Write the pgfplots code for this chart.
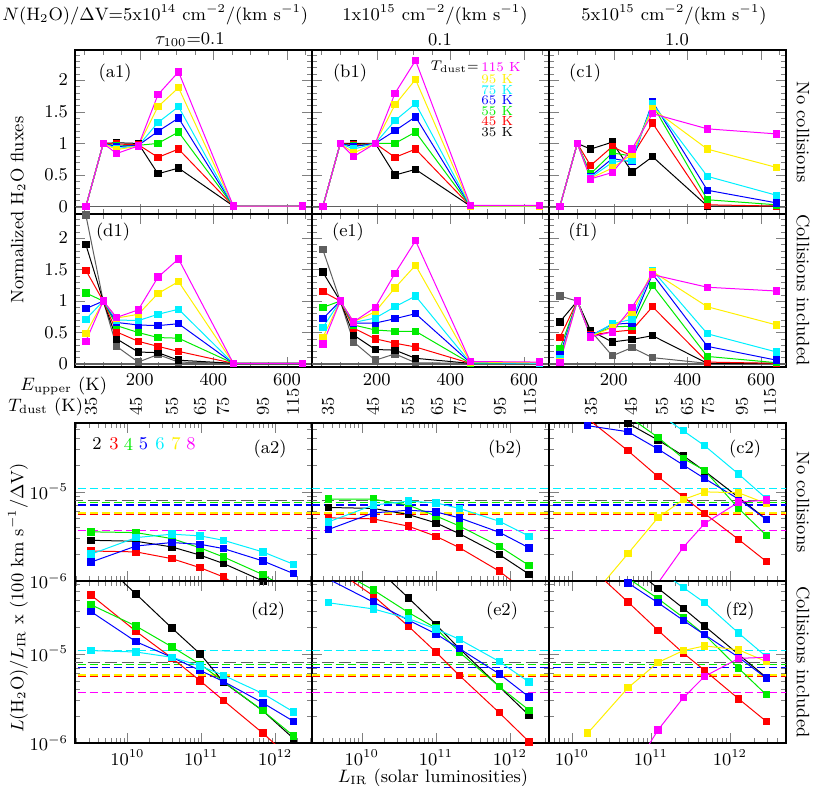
\documentclass[border=0pt]{standalone}
\usepackage{pgfplots}
\usepackage{pgfplotstable}
\pgfplotsset{compat=1.18}

\definecolor{cK}{RGB}{0,0,0}
\definecolor{cR}{RGB}{255,0,0}
\definecolor{cG}{RGB}{0,235,0}
\definecolor{cB}{RGB}{0,0,255}
\definecolor{cC}{RGB}{0,240,255}
\definecolor{cY}{RGB}{255,240,0}
\definecolor{cM}{RGB}{255,0,255}
\definecolor{cGr}{RGB}{95,95,95}

% ---- normalized fluxes vs E_upper (K); columns: grey, 35 K ... 115 K
\pgfplotstableread{
E     k35  k45  k55  k65  k75  k95  k115
53.4  0    0    0    0    0    0    0
100.8 1    1    1    1    1    1    1
136.9 1.01 0.99 0.96 0.95 0.92 0.90 0.84
195.9 1.00 0.98 0.97 0.97 0.96 0.96 0.96
249.4 0.52 0.78 1.00 1.19 1.33 1.58 1.77
305.3 0.61 0.91 1.18 1.40 1.58 1.88 2.13
454.3 0.01 0.01 0.01 0.01 0.01 0.01 0.01
642.5 0.01 0.01 0.01 0.01 0.01 0.01 0.01
}\tabaone
\pgfplotstableread{
E     k35  k45  k55  k65  k75  k95  k115
53.4  0    0    0    0    0    0    0
100.8 1    1    1    1    1    1    1
136.9 1.00 0.98 0.96 0.95 0.91 0.85 0.79
195.9 1.00 1.00 1.00 1.00 1.00 1.00 1.00
249.4 0.50 0.78 1.00 1.20 1.36 1.61 1.79
305.3 0.59 0.91 1.18 1.42 1.63 2.01 2.31
454.3 0.01 0.01 0.01 0.01 0.01 0.01 0.02
642.5 0.01 0.01 0.01 0.01 0.01 0.01 0.02
}\tabbone
\pgfplotstableread{
E     k35  k45  k55  k65  k75  k95  k115
53.4  0    0    0    0    0    0    0
100.8 1    1    1    1    1    1    1
136.9 0.91 0.65 0.52 0.48 0.46 0.45 0.44
195.9 1.02 0.95 0.85 0.76 0.70 0.61 0.54
249.4 0.55 0.80 0.80 0.71 0.74 0.83 0.91
305.3 0.79 1.32 1.61 1.66 1.63 1.55 1.47
454.3 0.01 0.03 0.11 0.26 0.48 0.91 1.23
642.5 0.01 0.01 0.03 0.06 0.18 0.62 1.15
}\tabcone
\pgfplotstableread{
E     gr   k35  k45  k55  k65  k75  k95  k115
53.4  2.37 1.90 1.49 1.13 0.88 0.71 0.48 0.36
100.8 1    1    1    1    1    1    1    1
136.9 0.28 0.40 0.51 0.61 0.66 0.70 0.73 0.74
195.9 0.03 0.19 0.36 0.50 0.62 0.69 0.79 0.86
249.4 0.15 0.18 0.28 0.42 0.61 0.79 1.12 1.38
305.3 0.03 0.06 0.20 0.41 0.64 0.87 1.31 1.67
454.3 0.01 0.01 0.01 0.01 0.01 0.01 0.01 0.01
642.5 0.01 0.01 0.01 0.01 0.01 0.01 0.01 0.01
}\tabdone
\pgfplotstableread{
E     gr   k35  k45  k55  k65  k75  k95  k115
53.4  1.82 1.46 1.15 0.90 0.72 0.58 0.42 0.32
100.8 1    1    1    1    1    1    1    1
136.9 0.35 0.46 0.57 0.62 0.65 0.66 0.67 0.67
195.9 0.06 0.23 0.40 0.54 0.65 0.73 0.83 0.90
249.4 0.16 0.22 0.33 0.52 0.72 0.91 1.21 1.44
305.3 0.02 0.09 0.27 0.52 0.80 1.08 1.57 1.96
454.3 0.01 0.01 0.01 0.01 0.02 0.02 0.03 0.04
642.5 0.01 0.01 0.01 0.01 0.01 0.01 0.02 0.03
}\tabeone
\pgfplotstableread{
E     gr   k35  k45  k55  k65  k75  k95  k115
53.4  1.08 0.67 0.42 0.24 0.14 0.08 0.04 0.02
100.8 1    1    1    1    1    1    1    1
136.9 0.53 0.53 0.46 0.45 0.45 0.44 0.44 0.43
195.9 0.13 0.35 0.51 0.59 0.63 0.64 0.58 0.51
249.4 0.26 0.39 0.54 0.60 0.65 0.71 0.82 0.90
305.3 0.10 0.45 0.91 1.25 1.43 1.49 1.47 1.42
454.3 0.01 0.01 0.03 0.12 0.28 0.48 0.91 1.22
642.5 0.01 0.01 0.01 0.02 0.06 0.19 0.62 1.16
}\tabfone

% ---- L(H2O)/L_IR vs L_IR; columns: lines 2..8
\pgfplotstableread{
L       l2      l3      l4      l5      l6
3.22e9  2.86e-6 2.17e-6 3.56e-6 1.63e-6 2.00e-6
1.31e10 2.79e-6 2.12e-6 3.49e-6 2.47e-6 3.07e-6
4.0e10  2.41e-6 1.78e-6 2.99e-6 2.70e-6 3.35e-6
9.66e10 1.95e-6 1.41e-6 2.35e-6 2.58e-6 3.21e-6
2.0e11  1.57e-6 1.11e-6 1.86e-6 2.31e-6 2.86e-6
6.82e11 1.00e-6 6.0e-7  1.18e-6 1.68e-6 2.12e-6
1.78e12 7.1e-7  3.6e-7  7.4e-7  1.21e-6 1.54e-6
}\tabatwo
\pgfplotstableread{
L       l2      l3      l4      l5      l6
3.54e9  6.68e-6 5.11e-6 8.28e-6 3.78e-6 4.60e-6
1.43e10 6.52e-6 4.98e-6 8.28e-6 5.81e-6 7.10e-6
4.25e10 5.57e-6 4.12e-6 7.10e-6 6.22e-6 7.87e-6
1.0e11  4.49e-6 3.18e-6 5.37e-6 5.96e-6 7.53e-6
2.07e11 3.40e-6 2.37e-6 4.15e-6 5.11e-6 6.52e-6
7.18e11 1.98e-6 1.29e-6 2.45e-6 3.52e-6 4.68e-6
1.82e12 1.19e-6 7.1e-7  1.49e-6 2.35e-6 3.18e-6
}\tabbtwo
\pgfplotstableread{
L        l2      l3      l4      l5      l6      l7      l8
1.585e10 1.05e-4 6.61e-5 1.26e-4 5.52e-5 2.0e-4  5.9e-7  1.0e-7
5.13e10  5.87e-5 2.89e-5 7.08e-5 4.72e-5 1.26e-4 2.03e-6 3.2e-7
1.23e11  3.81e-5 1.48e-5 4.08e-5 3.02e-5 7.59e-5 5.15e-6 9.5e-7
2.57e11  2.54e-5 8.79e-6 2.37e-5 2.00e-5 4.84e-5 8.20e-6 2.39e-6
4.79e11  1.71e-5 5.71e-6 1.74e-5 1.41e-5 3.29e-5 1.00e-5 4.42e-6
1.29e12  8.65e-6 2.92e-6 6.50e-6 8.28e-6 1.58e-5 9.75e-6 7.66e-6
2.88e12  4.93e-6 1.66e-6 3.26e-6 4.93e-6 8.43e-6 7.41e-6 8.07e-6
}\tabctwo
\pgfplotstableread{
L       l2      l3      l4      l5      l6
3.22e9  1.38e-4 4.57e-5 3.56e-5 2.98e-5 1.09e-5
1.31e10 4.69e-5 1.79e-5 2.05e-5 1.37e-5 1.05e-5
4.0e10  1.95e-5 9.0e-6  1.20e-5 9.16e-6 9.16e-6
9.66e10 1.00e-5 4.99e-6 7.66e-6 6.52e-6 7.33e-6
2.0e11  4.82e-6 3.00e-6 4.90e-6 4.90e-6 5.75e-6
6.82e11 2.30e-6 1.29e-6 2.30e-6 2.82e-6 3.59e-6
1.78e12 1.12e-6 6.3e-7  1.20e-6 1.75e-6 2.23e-6
}\tabdtwo
\pgfplotstableread{
L       l2      l3      l4      l5      l6
3.54e9  2.5e-4  1.0e-4  1.0e-4  6.92e-5 3.75e-5
1.43e10 1.0e-4  4.49e-5 5.22e-5 3.82e-5 3.20e-5
4.25e10 4.26e-5 2.05e-5 2.92e-5 2.40e-5 2.49e-5
1.0e11  2.14e-5 1.05e-5 1.95e-5 1.68e-5 1.91e-5
2.07e11 1.15e-5 5.75e-6 1.05e-5 1.15e-5 1.46e-5
7.18e11 4.29e-6 2.19e-6 4.29e-6 5.97e-6 8.22e-6
1.82e12 2.04e-6 1.03e-6 2.33e-6 3.28e-6 4.82e-6
}\tabetwo
\pgfplotstableread{
L        l2      l3      l4      l5      l6      l7      l8
1.585e10 2.0e-4  1.0e-4  1.26e-4 1.26e-4 2.5e-4  1.29e-6 1.0e-7
5.13e10  1.0e-4  3.82e-5 7.08e-5 6.25e-5 1.41e-4 4.17e-6 4.0e-7
1.23e11  5.46e-5 1.84e-5 4.17e-5 3.75e-5 8.91e-5 8.02e-6 1.40e-6
2.57e11  3.25e-5 1.02e-5 2.56e-5 2.38e-5 5.56e-5 1.09e-5 3.22e-6
4.79e11  2.05e-5 6.52e-6 1.64e-5 1.64e-5 3.75e-5 1.23e-5 5.60e-6
1.29e12  9.84e-6 3.13e-6 6.89e-6 9.16e-6 1.71e-5 1.11e-5 8.91e-6
2.88e12  5.46e-6 1.75e-6 3.49e-6 5.36e-6 9.33e-6 8.22e-6 9.16e-6
}\tabftwo

\pgfplotsset{
  ser/.style={color=#1, mark=square*, mark size=1.6pt, line width=0.5pt},
  panel/.style={scale only axis, width=118.5pt, anchor=south west,
    tick align=inside, major tick length=5pt, minor tick length=2.5pt,
    axis line style={line width=0.7pt},
    tick label style={font=\small}},
  toprow/.style={panel, xmin=24, xmax=668, xtick={0,200,400,600,800},
    minor x tick num=3, ytick={-0.5,0,0.5,1,1.5,2,2.5}, minor y tick num=4},
  botrow/.style={panel, ymin=1e-6,
    xtick={1e9,1e10,1e11,1e12,1e13}, ytick={1e-7,1e-6,1e-5,1e-4}},
  colA/.style={xmin=1.95e9, xmax=3.16e12},
  colB/.style={xmin=2.13e9, xmax=3.37e12},
  colC/.style={xmin=5.13e9, xmax=5.13e12},
}

\newcommand{\legf}{\fontsize{6.6}{6.6}\selectfont}
\newcommand{\zeroline}{\draw[cGr, line width=0.6pt] (axis cs:24,0) -- (axis cs:668,0);}
\newcommand{\tseries}[1]{%
  \addplot[ser=cK] table[x=E, y=k35] {#1};
  \addplot[ser=cR] table[x=E, y=k45] {#1};
  \addplot[ser=cG] table[x=E, y=k55] {#1};
  \addplot[ser=cB] table[x=E, y=k65] {#1};
  \addplot[ser=cC] table[x=E, y=k75] {#1};
  \addplot[ser=cY] table[x=E, y=k95] {#1};
  \addplot[ser=cM] table[x=E, y=k115] {#1};}
\newcommand{\bseries}[1]{%
  \addplot[ser=cK] table[x=L, y=l2] {#1};
  \addplot[ser=cR] table[x=L, y=l3] {#1};
  \addplot[ser=cG] table[x=L, y=l4] {#1};
  \addplot[ser=cB] table[x=L, y=l5] {#1};
  \addplot[ser=cC] table[x=L, y=l6] {#1};}
% observed ratios (dashed)
\newcommand{\obs}{%
  \addplot[cGr, line width=0.6pt, dash pattern=on 6pt off 2.5pt] coordinates {(1e9,8.04e-6) (1e13,8.04e-6)};
  \addplot[cR, line width=0.6pt, dash pattern=on 4pt off 2pt] coordinates {(1e9,5.58e-6) (1e13,5.58e-6)};
  \addplot[cG, line width=0.6pt, dash pattern=on 4pt off 2pt] coordinates {(1e9,7.59e-6) (1e13,7.59e-6)};
  \addplot[cB, line width=0.6pt, dash pattern=on 4pt off 2pt] coordinates {(1e9,7.11e-6) (1e13,7.11e-6)};
  \addplot[cC, line width=0.6pt, dash pattern=on 4pt off 2pt] coordinates {(1e9,1.084e-5) (1e13,1.084e-5)};
  \addplot[cY, line width=0.6pt, dash pattern=on 4pt off 2pt] coordinates {(1e9,5.79e-6) (1e13,5.79e-6)};
  \addplot[cM, line width=0.6pt, dash pattern=on 4pt off 2pt] coordinates {(1e9,3.70e-6) (1e13,3.70e-6)};}

\begin{document}
\begin{tikzpicture}
\path[use as bounding box] (0,0) rectangle (408.5pt,392.5pt);

% ---------- row 1: no collisions
\begin{axis}[toprow, at={(37.5pt,285.5pt)}, height=82pt, ymin=-0.115, ymax=2.476, xticklabels={}]
\zeroline
\tseries{\tabaone}
\end{axis}
\begin{axis}[toprow, at={(156pt,285.5pt)}, height=82pt, ymin=-0.115, ymax=2.476, xticklabels={}, yticklabels={}]
\zeroline
\tseries{\tabbone}
\end{axis}
\begin{axis}[toprow, at={(274.5pt,285.5pt)}, height=82pt, ymin=-0.115, ymax=2.476, xticklabels={}, yticklabels={}]
\zeroline
\tseries{\tabcone}
\end{axis}

% ---------- row 2: collisions included
\begin{axis}[toprow, at={(37.5pt,209pt)}, height=76.5pt, ymin=-0.048, ymax=2.385]
\zeroline
\addplot[ser=cGr] table[x=E, y=gr] {\tabdone};
\tseries{\tabdone}
\end{axis}
\begin{axis}[toprow, at={(156pt,209pt)}, height=76.5pt, ymin=-0.048, ymax=2.385, yticklabels={}]
\zeroline
\addplot[ser=cGr] table[x=E, y=gr] {\tabeone};
\tseries{\tabeone}
\end{axis}
\begin{axis}[toprow, at={(274.5pt,209pt)}, height=76.5pt, ymin=-0.048, ymax=2.385, yticklabels={}]
\zeroline
\addplot[ser=cGr] table[x=E, y=gr] {\tabfone};
\tseries{\tabfone}
\end{axis}

% ---------- row 3: no collisions, line ratios
\begin{loglogaxis}[botrow, colA, at={(37.5pt,102pt)}, height=79pt, ymax=5.92e-5, xticklabels={}]
\obs
\bseries{\tabatwo}
\end{loglogaxis}
\begin{loglogaxis}[botrow, colB, at={(156pt,102pt)}, height=79pt, ymax=5.92e-5, xticklabels={}, yticklabels={}]
\obs
\bseries{\tabbtwo}
\end{loglogaxis}
\begin{loglogaxis}[botrow, colC, at={(274.5pt,102pt)}, height=79pt, ymax=5.92e-5, xticklabels={}, yticklabels={}]
\obs
\bseries{\tabctwo}
\addplot[ser=cY] table[x=L, y=l7] {\tabctwo};
\addplot[ser=cM] table[x=L, y=l8] {\tabctwo};
\end{loglogaxis}

% ---------- row 4: collisions included, line ratios
\begin{loglogaxis}[botrow, colA, at={(37.5pt,21pt)}, height=81pt, ymax=6.58e-5]
\obs
\bseries{\tabdtwo}
\end{loglogaxis}
\begin{loglogaxis}[botrow, colB, at={(156pt,21pt)}, height=81pt, ymax=6.58e-5, yticklabels={}]
\obs
\bseries{\tabetwo}
\end{loglogaxis}
\begin{loglogaxis}[botrow, colC, at={(274.5pt,21pt)}, height=81pt, ymax=6.58e-5, yticklabels={}]
\obs
\bseries{\tabftwo}
\addplot[ser=cY] table[x=L, y=l7] {\tabftwo};
\addplot[ser=cM] table[x=L, y=l8] {\tabftwo};
\end{loglogaxis}

% ---------- texts, in pixel units of the reference (y downwards)
\begin{scope}[x=0.5pt, y=-0.5pt, shift={(0pt,392.5pt)}]
\node[anchor=west, font=\small, inner sep=0] at (2,15) {$N$(H$_2$O)/$\Delta$V=5x10$^{14}$ cm$^{-2}$/(km s$^{-1}$)};
\node[font=\small, inner sep=0] at (190,40) {$\tau_{100}$=0.1};
\node[font=\small, inner sep=0] at (435,15) {1x10$^{15}$ cm$^{-2}$/(km s$^{-1}$)};
\node[font=\small, inner sep=0] at (440,40) {0.1};
\node[font=\small, inner sep=0] at (674,15) {5x10$^{15}$ cm$^{-2}$/(km s$^{-1}$)};
\node[font=\small, inner sep=0] at (677,40) {1.0};

\foreach \t/\x/\y in {a1/115/73, b1/350/73, c1/585/73, d1/113/232, e1/348/232, f1/583/232,
                      a2/270/449, b2/505/449, c2/745/449, d2/268/611, e2/502/611, f2/740/611}
  \node[font=\small] at (\x,\y) {(\t)};

\node[anchor=east, font=\legf, inner sep=0] at (479,67) {$T_{\rm dust}$=};
\foreach \c/\v/\y in {cM/115/67, cY/95/79, cC/75/89.7, cB/65/100.3, cG/55/111, cR/45/121.6, cK/35/132.3}
  \node[anchor=west, font=\legf, text=\c, inner sep=0] at (481,\y) {\v\ K};

\foreach \c/\v/\x in {cK/2/97, cR/3/114, cG/4/128.5, cB/5/143.5, cC/6/160, cY/7/176, cM/8/191}
  \node[font=\small, text=\c, inner sep=0] at (\x,444) {\v};

\node[anchor=west, font=\small, inner sep=0] at (20,386) {$E_{\rm upper}$ (K)};
\node[anchor=west, font=\small, inner sep=0] at (8,407) {$T_{\rm dust}$ (K)};
\foreach \x/\v in {91/35, 136/45, 172/55, 200/65, 223/75, 263/95, 293/115,
                   328/35, 373/45, 408/55, 437/65, 460/75, 500/95, 530/115,
                   591/35, 631/45, 662/55, 687/65, 708/75, 742/95, 770/115}
  \node[rotate=90, anchor=west, font=\small, inner sep=0] at (\x,416) {\v};

\node[rotate=90, font=\small] at (18,210) {Normalized H$_2$O fluxes};
\node[rotate=90, font=\small] at (18,598) {$L$(H$_2$O)/$L_{\rm IR}$ x (100 km s$^{-1}$/$\Delta$V)};
\node[font=\small] at (433,778) {$L_{\rm IR}$ (solar luminosities)};

\node[rotate=-90, font=\small] at (803,132) {No collisions};
\node[rotate=-90, font=\small] at (803,290) {Collisions included};
\node[rotate=-90, font=\small] at (803,502) {No collisions};
\node[rotate=-90, font=\small] at (803,662) {Collisions included};
\end{scope}
\end{tikzpicture}
\end{document}
